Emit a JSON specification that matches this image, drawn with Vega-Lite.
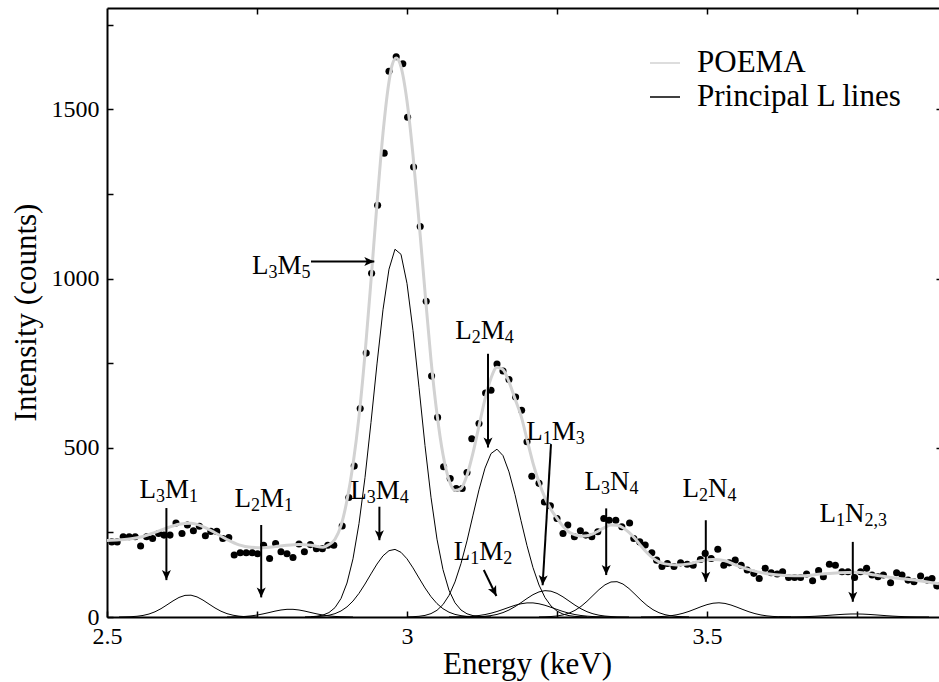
{
  "$schema": "https://vega.github.io/schema/vega-lite/v6.json",
  "width": 832,
  "height": 609,
  "autosize": {"type": "none"},
  "padding": {"left": 107, "top": 8, "right": 0, "bottom": 65},
  "config": {
    "font": "Liberation Serif",
    "view": {"stroke": null},
    "axis": {"grid": false, "labelFont": "Liberation Serif", "titleFont": "Liberation Serif"},
    "style": {"guide-label": {"font": "Liberation Serif"}, "guide-title": {"font": "Liberation Serif"}},
    "legend": {
      "orient": "none", "legendX": 542, "legendY": 39, "title": null,
      "labelFont": "Liberation Serif", "labelFontSize": 31, "labelColor": "black",
      "symbolType": "stroke", "symbolSize": 900, "symbolStrokeWidth": 1.5,
      "labelOffset": 16, "rowPadding": 3, "padding": 0, "labelLimit": 400
    }
  },
  "datasets": {
    "dots": [
      {"E":2.508,"c":222},{"E":2.517,"c":222},{"E":2.527,"c":237},{"E":2.537,"c":237},{"E":2.547,"c":237},
      {"E":2.556,"c":210},{"E":2.566,"c":237},{"E":2.576,"c":232},{"E":2.586,"c":247},{"E":2.595,"c":242},
      {"E":2.605,"c":242},{"E":2.615,"c":278},{"E":2.625,"c":247},{"E":2.634,"c":272},{"E":2.644,"c":255},
      {"E":2.654,"c":268},{"E":2.664,"c":240},{"E":2.673,"c":253},{"E":2.683,"c":253},{"E":2.693,"c":232},
      {"E":2.703,"c":235},{"E":2.712,"c":183},{"E":2.722,"c":190},{"E":2.732,"c":190},{"E":2.742,"c":190},
      {"E":2.751,"c":187},{"E":2.761,"c":212},{"E":2.771,"c":173},{"E":2.781,"c":217},{"E":2.790,"c":193},
      {"E":2.800,"c":187},{"E":2.810,"c":176},{"E":2.820,"c":216},{"E":2.829,"c":193},{"E":2.839,"c":214},
      {"E":2.849,"c":202},{"E":2.859,"c":202},{"E":2.868,"c":212},{"E":2.878,"c":212},{"E":2.892,"c":269},
      {"E":2.903,"c":353},{"E":2.912,"c":446},{"E":2.922,"c":616},{"E":2.932,"c":780},{"E":2.941,"c":1016},
      {"E":2.951,"c":1217},{"E":2.962,"c":1371},{"E":2.970,"c":1613},{"E":2.982,"c":1656},{"E":2.993,"c":1635},
      {"E":3.001,"c":1477},{"E":3.011,"c":1330},{"E":3.022,"c":1154},{"E":3.032,"c":933},{"E":3.041,"c":712},
      {"E":3.051,"c":590},{"E":3.061,"c":444},{"E":3.072,"c":409},{"E":3.082,"c":380},{"E":3.092,"c":380},
      {"E":3.100,"c":427},{"E":3.108,"c":527},{"E":3.120,"c":572},{"E":3.131,"c":662},{"E":3.140,"c":670},
      {"E":3.150,"c":748},{"E":3.160,"c":727},{"E":3.170,"c":702},{"E":3.181,"c":650},{"E":3.191,"c":611},
      {"E":3.200,"c":518},{"E":3.208,"c":416},{"E":3.220,"c":395},{"E":3.229,"c":340},{"E":3.239,"c":329},
      {"E":3.250,"c":291},{"E":3.260,"c":247},{"E":3.268,"c":272},{"E":3.279,"c":237},{"E":3.289,"c":255},
      {"E":3.298,"c":242},{"E":3.308,"c":237},{"E":3.318,"c":252},{"E":3.328,"c":291},{"E":3.337,"c":286},
      {"E":3.348,"c":286},{"E":3.358,"c":267},{"E":3.371,"c":278},{"E":3.378,"c":232},{"E":3.388,"c":222},
      {"E":3.397,"c":213},{"E":3.408,"c":190},{"E":3.416,"c":168},{"E":3.425,"c":149},{"E":3.434,"c":158},
      {"E":3.445,"c":149},{"E":3.456,"c":160},{"E":3.467,"c":156},{"E":3.477,"c":153},{"E":3.489,"c":170},
      {"E":3.497,"c":188},{"E":3.507,"c":173},{"E":3.518,"c":200},{"E":3.528,"c":153},{"E":3.537,"c":160},
      {"E":3.547,"c":168},{"E":3.557,"c":153},{"E":3.567,"c":139},{"E":3.578,"c":129},{"E":3.587,"c":114},
      {"E":3.597,"c":144},{"E":3.607,"c":131},{"E":3.617,"c":127},{"E":3.626,"c":134},{"E":3.636,"c":117},
      {"E":3.646,"c":117},{"E":3.656,"c":117},{"E":3.666,"c":127},{"E":3.676,"c":107},{"E":3.686,"c":137},
      {"E":3.694,"c":119},{"E":3.704,"c":156},{"E":3.714,"c":153},{"E":3.725,"c":134},{"E":3.735,"c":134},
      {"E":3.746,"c":117},{"E":3.756,"c":134},{"E":3.766,"c":144},{"E":3.775,"c":124},{"E":3.785,"c":119},
      {"E":3.794,"c":124},{"E":3.806,"c":101},{"E":3.816,"c":131},{"E":3.825,"c":124},{"E":3.835,"c":109},
      {"E":3.845,"c":104},{"E":3.856,"c":121},{"E":3.867,"c":109},{"E":3.875,"c":114},{"E":3.883,"c":92}
    ],
    "fit": [
      {"E":2.50,"c":226},{"E":2.52,"c":228},{"E":2.54,"c":231},{"E":2.56,"c":238},{"E":2.58,"c":250},
      {"E":2.60,"c":263},{"E":2.62,"c":274},{"E":2.64,"c":277},{"E":2.66,"c":267},{"E":2.68,"c":249},
      {"E":2.70,"c":229},{"E":2.72,"c":213},{"E":2.74,"c":206},{"E":2.76,"c":205},{"E":2.78,"c":208},
      {"E":2.80,"c":212},{"E":2.82,"c":214},{"E":2.84,"c":212},{"E":2.86,"c":206},{"E":2.87,"c":214},
      {"E":2.88,"c":230},{"E":2.89,"c":270},{"E":2.90,"c":345},{"E":2.91,"c":451},{"E":2.92,"c":592},
      {"E":2.93,"c":777},{"E":2.94,"c":994},{"E":2.95,"c":1222},{"E":2.96,"c":1430},{"E":2.97,"c":1582},
      {"E":2.975,"c":1630},{"E":2.982,"c":1652},{"E":2.99,"c":1626},{"E":3.00,"c":1525},{"E":3.01,"c":1365},
      {"E":3.02,"c":1169},{"E":3.03,"c":961},{"E":3.04,"c":760},{"E":3.05,"c":600},{"E":3.06,"c":480},
      {"E":3.07,"c":405},{"E":3.08,"c":374},{"E":3.09,"c":380},{"E":3.10,"c":419},{"E":3.11,"c":485},
      {"E":3.12,"c":565},{"E":3.13,"c":644},{"E":3.14,"c":706},{"E":3.15,"c":738},{"E":3.16,"c":731},
      {"E":3.17,"c":695},{"E":3.18,"c":645},{"E":3.19,"c":595},{"E":3.20,"c":525},{"E":3.21,"c":455},
      {"E":3.22,"c":398},{"E":3.23,"c":352},{"E":3.24,"c":318},{"E":3.25,"c":292},{"E":3.26,"c":268},
      {"E":3.27,"c":251},{"E":3.28,"c":243},{"E":3.29,"c":239},{"E":3.30,"c":240},{"E":3.31,"c":246},
      {"E":3.32,"c":255},{"E":3.33,"c":265},{"E":3.34,"c":272},{"E":3.35,"c":271},{"E":3.36,"c":264},
      {"E":3.37,"c":250},{"E":3.38,"c":232},{"E":3.39,"c":210},{"E":3.40,"c":190},{"E":3.41,"c":174},
      {"E":3.42,"c":163},{"E":3.43,"c":157},{"E":3.45,"c":154},{"E":3.47,"c":157},{"E":3.49,"c":166},
      {"E":3.51,"c":170},{"E":3.53,"c":166},{"E":3.55,"c":152},{"E":3.57,"c":140},{"E":3.60,"c":128},
      {"E":3.63,"c":123},{"E":3.66,"c":122},{"E":3.69,"c":127},{"E":3.72,"c":131},{"E":3.75,"c":132},
      {"E":3.78,"c":124},{"E":3.81,"c":116},{"E":3.85,"c":108},{"E":3.8867,"c":98}
    ],
    "comps": [
      {"k":"L3M1","E":2.52,"c":0},{"k":"L3M1","E":2.53,"c":0.4},{"k":"L3M1","E":2.54,"c":0.9},{"k":"L3M1","E":2.55,"c":2.2},{"k":"L3M1","E":2.56,"c":4.6},{"k":"L3M1","E":2.57,"c":8.8},{"k":"L3M1","E":2.58,"c":15.4},{"k":"L3M1","E":2.59,"c":24.6},{"k":"L3M1","E":2.60,"c":35.9},{"k":"L3M1","E":2.61,"c":47.6},{"k":"L3M1","E":2.62,"c":57.8},{"k":"L3M1","E":2.63,"c":63.9},{"k":"L3M1","E":2.64,"c":64.5},{"k":"L3M1","E":2.65,"c":59.4},{"k":"L3M1","E":2.66,"c":49.9},{"k":"L3M1","E":2.67,"c":38.2},{"k":"L3M1","E":2.68,"c":26.7},{"k":"L3M1","E":2.69,"c":17},{"k":"L3M1","E":2.70,"c":9.9},{"k":"L3M1","E":2.71,"c":5.3},{"k":"L3M1","E":2.72,"c":2.5},{"k":"L3M1","E":2.73,"c":1.1},{"k":"L3M1","E":2.74,"c":0.5},{"k":"L3M1","E":2.75,"c":0},
      {"k":"L2M1","E":2.70,"c":0},{"k":"L2M1","E":2.71,"c":0.4},{"k":"L2M1","E":2.72,"c":0.8},{"k":"L2M1","E":2.73,"c":1.7},{"k":"L2M1","E":2.74,"c":3.3},{"k":"L2M1","E":2.75,"c":5.7},{"k":"L2M1","E":2.76,"c":9.1},{"k":"L2M1","E":2.77,"c":13.1},{"k":"L2M1","E":2.78,"c":17.3},{"k":"L2M1","E":2.79,"c":20.7},{"k":"L2M1","E":2.80,"c":22.7},{"k":"L2M1","E":2.81,"c":22.7},{"k":"L2M1","E":2.82,"c":20.7},{"k":"L2M1","E":2.83,"c":17.3},{"k":"L2M1","E":2.84,"c":13.1},{"k":"L2M1","E":2.85,"c":9.1},{"k":"L2M1","E":2.86,"c":5.7},{"k":"L2M1","E":2.87,"c":3.3},{"k":"L2M1","E":2.88,"c":1.7},{"k":"L2M1","E":2.89,"c":0.8},{"k":"L2M1","E":2.90,"c":0.4},{"k":"L2M1","E":2.91,"c":0},
      {"k":"L3M5","E":2.83,"c":0.3},{"k":"L3M5","E":2.84,"c":0.9},{"k":"L3M5","E":2.85,"c":2.4},{"k":"L3M5","E":2.86,"c":5.8},{"k":"L3M5","E":2.87,"c":13.1},{"k":"L3M5","E":2.88,"c":27.7},{"k":"L3M5","E":2.89,"c":54.5},{"k":"L3M5","E":2.90,"c":100.4},{"k":"L3M5","E":2.91,"c":172},{"k":"L3M5","E":2.92,"c":276},{"k":"L3M5","E":2.93,"c":412},{"k":"L3M5","E":2.94,"c":575},{"k":"L3M5","E":2.95,"c":748},{"k":"L3M5","E":2.96,"c":908},{"k":"L3M5","E":2.97,"c":1028},{"k":"L3M5","E":2.98,"c":1087},{"k":"L3M5","E":2.99,"c":1072},{"k":"L3M5","E":3.00,"c":986},{"k":"L3M5","E":3.01,"c":847},{"k":"L3M5","E":3.02,"c":679},{"k":"L3M5","E":3.03,"c":507},{"k":"L3M5","E":3.04,"c":354},{"k":"L3M5","E":3.05,"c":230},{"k":"L3M5","E":3.06,"c":140},{"k":"L3M5","E":3.07,"c":79},{"k":"L3M5","E":3.08,"c":42},{"k":"L3M5","E":3.09,"c":20.7},{"k":"L3M5","E":3.10,"c":9.5},{"k":"L3M5","E":3.11,"c":4.1},{"k":"L3M5","E":3.12,"c":1.6},{"k":"L3M5","E":3.13,"c":0.6},{"k":"L3M5","E":3.14,"c":0.2},
      {"k":"L3M4","E":2.84,"c":0.5},{"k":"L3M4","E":2.85,"c":1.2},{"k":"L3M4","E":2.86,"c":2.6},{"k":"L3M4","E":2.87,"c":5.2},{"k":"L3M4","E":2.88,"c":9.9},{"k":"L3M4","E":2.89,"c":17.8},{"k":"L3M4","E":2.90,"c":29.9},{"k":"L3M4","E":2.91,"c":47.1},{"k":"L3M4","E":2.92,"c":69.9},{"k":"L3M4","E":2.93,"c":97.4},{"k":"L3M4","E":2.94,"c":127.4},{"k":"L3M4","E":2.95,"c":156.5},{"k":"L3M4","E":2.96,"c":180.8},{"k":"L3M4","E":2.97,"c":196},{"k":"L3M4","E":2.98,"c":199.8},{"k":"L3M4","E":2.99,"c":191.2},{"k":"L3M4","E":3.00,"c":172},{"k":"L3M4","E":3.01,"c":145.2},{"k":"L3M4","E":3.02,"c":115.3},{"k":"L3M4","E":3.03,"c":85.9},{"k":"L3M4","E":3.04,"c":60.2},{"k":"L3M4","E":3.05,"c":39.6},{"k":"L3M4","E":3.06,"c":24.5},{"k":"L3M4","E":3.07,"c":14.2},{"k":"L3M4","E":3.08,"c":7.7},{"k":"L3M4","E":3.09,"c":4},{"k":"L3M4","E":3.10,"c":1.9},{"k":"L3M4","E":3.11,"c":0.9},{"k":"L3M4","E":3.12,"c":0.4},
      {"k":"L2M4","E":3.00,"c":0.3},{"k":"L2M4","E":3.01,"c":0.9},{"k":"L2M4","E":3.02,"c":2.1},{"k":"L2M4","E":3.03,"c":4.7},{"k":"L2M4","E":3.04,"c":10},{"k":"L2M4","E":3.05,"c":19.8},{"k":"L2M4","E":3.06,"c":36.7},{"k":"L2M4","E":3.07,"c":63.7},{"k":"L2M4","E":3.08,"c":103.7},{"k":"L2M4","E":3.09,"c":158},{"k":"L2M4","E":3.10,"c":225},{"k":"L2M4","E":3.11,"c":301},{"k":"L2M4","E":3.12,"c":376},{"k":"L2M4","E":3.13,"c":440},{"k":"L2M4","E":3.14,"c":483},{"k":"L2M4","E":3.15,"c":496},{"k":"L2M4","E":3.16,"c":477},{"k":"L2M4","E":3.17,"c":429},{"k":"L2M4","E":3.18,"c":362},{"k":"L2M4","E":3.19,"c":285},{"k":"L2M4","E":3.20,"c":211},{"k":"L2M4","E":3.21,"c":146},{"k":"L2M4","E":3.22,"c":94.6},{"k":"L2M4","E":3.23,"c":57.4},{"k":"L2M4","E":3.24,"c":32.6},{"k":"L2M4","E":3.25,"c":17.4},{"k":"L2M4","E":3.26,"c":8.6},{"k":"L2M4","E":3.27,"c":4},{"k":"L2M4","E":3.28,"c":1.8},{"k":"L2M4","E":3.29,"c":0.7},{"k":"L2M4","E":3.30,"c":0.3},
      {"k":"L1M2","E":3.07,"c":0.1},{"k":"L1M2","E":3.08,"c":0.3},{"k":"L1M2","E":3.09,"c":0.7},{"k":"L1M2","E":3.10,"c":1.3},{"k":"L1M2","E":3.11,"c":2.5},{"k":"L1M2","E":3.12,"c":4.4},{"k":"L1M2","E":3.13,"c":7.2},{"k":"L1M2","E":3.14,"c":11.2},{"k":"L1M2","E":3.15,"c":16.3},{"k":"L1M2","E":3.16,"c":22.3},{"k":"L1M2","E":3.17,"c":28.6},{"k":"L1M2","E":3.18,"c":34.6},{"k":"L1M2","E":3.19,"c":39.1},{"k":"L1M2","E":3.20,"c":41.7},{"k":"L1M2","E":3.21,"c":41.7},{"k":"L1M2","E":3.22,"c":39.1},{"k":"L1M2","E":3.23,"c":34.6},{"k":"L1M2","E":3.24,"c":28.6},{"k":"L1M2","E":3.25,"c":22.3},{"k":"L1M2","E":3.26,"c":16.3},{"k":"L1M2","E":3.27,"c":11.2},{"k":"L1M2","E":3.28,"c":7.2},{"k":"L1M2","E":3.29,"c":4.4},{"k":"L1M2","E":3.30,"c":2.5},{"k":"L1M2","E":3.31,"c":1.3},{"k":"L1M2","E":3.32,"c":0.7},{"k":"L1M2","E":3.33,"c":0.3},{"k":"L1M2","E":3.34,"c":0.1},
      {"k":"L1M3","E":3.10,"c":0.2},{"k":"L1M3","E":3.11,"c":0.5},{"k":"L1M3","E":3.12,"c":1},{"k":"L1M3","E":3.13,"c":2.1},{"k":"L1M3","E":3.14,"c":4.2},{"k":"L1M3","E":3.15,"c":7.6},{"k":"L1M3","E":3.16,"c":13},{"k":"L1M3","E":3.17,"c":20.6},{"k":"L1M3","E":3.18,"c":30.6},{"k":"L1M3","E":3.19,"c":42.3},{"k":"L1M3","E":3.20,"c":54.7},{"k":"L1M3","E":3.21,"c":66},{"k":"L1M3","E":3.22,"c":74.2},{"k":"L1M3","E":3.23,"c":77.9},{"k":"L1M3","E":3.24,"c":76.3},{"k":"L1M3","E":3.25,"c":69.7},{"k":"L1M3","E":3.26,"c":59.5},{"k":"L1M3","E":3.27,"c":47.3},{"k":"L1M3","E":3.28,"c":35.1},{"k":"L1M3","E":3.29,"c":24.3},{"k":"L1M3","E":3.30,"c":15.7},{"k":"L1M3","E":3.31,"c":9.5},{"k":"L1M3","E":3.32,"c":5.3},{"k":"L1M3","E":3.33,"c":2.8},{"k":"L1M3","E":3.34,"c":1.4},{"k":"L1M3","E":3.35,"c":0.6},{"k":"L1M3","E":3.36,"c":0.3},{"k":"L1M3","E":3.37,"c":0.1},
      {"k":"L3N4","E":3.22,"c":0.2},{"k":"L3N4","E":3.23,"c":0.6},{"k":"L3N4","E":3.24,"c":1.4},{"k":"L3N4","E":3.25,"c":3},{"k":"L3N4","E":3.26,"c":6.1},{"k":"L3N4","E":3.27,"c":11.3},{"k":"L3N4","E":3.28,"c":19.6},{"k":"L3N4","E":3.29,"c":31.3},{"k":"L3N4","E":3.30,"c":46.4},{"k":"L3N4","E":3.31,"c":63.7},{"k":"L3N4","E":3.32,"c":80.9},{"k":"L3N4","E":3.33,"c":95.1},{"k":"L3N4","E":3.34,"c":103.5},{"k":"L3N4","E":3.35,"c":104.4},{"k":"L3N4","E":3.36,"c":97.4},{"k":"L3N4","E":3.37,"c":84.1},{"k":"L3N4","E":3.38,"c":67.2},{"k":"L3N4","E":3.39,"c":49.7},{"k":"L3N4","E":3.40,"c":34.1},{"k":"L3N4","E":3.41,"c":21.6},{"k":"L3N4","E":3.42,"c":12.7},{"k":"L3N4","E":3.43,"c":6.9},{"k":"L3N4","E":3.44,"c":3.5},{"k":"L3N4","E":3.45,"c":1.6},{"k":"L3N4","E":3.46,"c":0.7},{"k":"L3N4","E":3.47,"c":0.3},
      {"k":"L2N4","E":3.39,"c":0.1},{"k":"L2N4","E":3.40,"c":0.2},{"k":"L2N4","E":3.41,"c":0.4},{"k":"L2N4","E":3.42,"c":1},{"k":"L2N4","E":3.43,"c":2},{"k":"L2N4","E":3.44,"c":3.8},{"k":"L2N4","E":3.45,"c":6.7},{"k":"L2N4","E":3.46,"c":11},{"k":"L2N4","E":3.47,"c":16.6},{"k":"L2N4","E":3.48,"c":23.4},{"k":"L2N4","E":3.49,"c":30.4},{"k":"L2N4","E":3.50,"c":36.5},{"k":"L2N4","E":3.51,"c":40.7},{"k":"L2N4","E":3.52,"c":42},{"k":"L2N4","E":3.53,"c":40.1},{"k":"L2N4","E":3.54,"c":35.4},{"k":"L2N4","E":3.55,"c":29},{"k":"L2N4","E":3.56,"c":22},{"k":"L2N4","E":3.57,"c":15.4},{"k":"L2N4","E":3.58,"c":10},{"k":"L2N4","E":3.59,"c":6},{"k":"L2N4","E":3.60,"c":3.3},{"k":"L2N4","E":3.61,"c":1.7},{"k":"L2N4","E":3.62,"c":0.8},{"k":"L2N4","E":3.63,"c":0.4},{"k":"L2N4","E":3.64,"c":0.1},
      {"k":"L1N23","E":3.62,"c":0.1},{"k":"L1N23","E":3.63,"c":0.1},{"k":"L1N23","E":3.64,"c":0.3},{"k":"L1N23","E":3.65,"c":0.5},{"k":"L1N23","E":3.66,"c":0.8},{"k":"L1N23","E":3.67,"c":1.4},{"k":"L1N23","E":3.68,"c":2.2},{"k":"L1N23","E":3.69,"c":3.3},{"k":"L1N23","E":3.70,"c":4.5},{"k":"L1N23","E":3.71,"c":5.9},{"k":"L1N23","E":3.72,"c":7.2},{"k":"L1N23","E":3.73,"c":8.2},{"k":"L1N23","E":3.74,"c":8.9},{"k":"L1N23","E":3.75,"c":9},{"k":"L1N23","E":3.76,"c":8.5},{"k":"L1N23","E":3.77,"c":7.6},{"k":"L1N23","E":3.78,"c":6.4},{"k":"L1N23","E":3.79,"c":5.1},{"k":"L1N23","E":3.80,"c":3.7},{"k":"L1N23","E":3.81,"c":2.6},{"k":"L1N23","E":3.82,"c":1.7},{"k":"L1N23","E":3.83,"c":1},{"k":"L1N23","E":3.84,"c":0.6},{"k":"L1N23","E":3.85,"c":0.3},{"k":"L1N23","E":3.86,"c":0.2},{"k":"L1N23","E":3.87,"c":0.1}
    ],
    "labels": [
      {"E":2.554,"c":351,"a":"3","b":"M","d":"1"},
      {"E":2.7127,"c":326,"a":"2","b":"M","d":"1"},
      {"E":2.9055,"c":350,"a":"3","b":"M","d":"4"},
      {"E":2.7417,"c":1013,"a":"3","b":"M","d":"5"},
      {"E":3.0805,"c":821,"a":"2","b":"M","d":"4"},
      {"E":3.1988,"c":523,"a":"1","b":"M","d":"3"},
      {"E":3.0778,"c":168,"a":"1","b":"M","d":"2"},
      {"E":3.296,"c":375,"a":"3","b":"N","d":"4"},
      {"E":3.4593,"c":355,"a":"2","b":"N","d":"4"},
      {"E":3.6877,"c":281,"a":"1","b":"N","d":"2,3"}
    ],
    "arrows": [
      {"k":"L3M1","E":2.599,"c":322,"E2":2.599,"c2":109},
      {"k":"L2M1","E":2.757,"c":272,"E2":2.757,"c2":58},
      {"k":"L3M4","E":2.954,"c":326,"E2":2.954,"c2":227},
      {"k":"L3M5","E":2.84,"c":1051,"E2":2.9455,"c2":1051},
      {"k":"L2M4","E":3.135,"c":778,"E2":3.135,"c2":501},
      {"k":"L1M3","E":3.240,"c":511,"E2":3.226,"c2":94},
      {"k":"L1M2","E":3.128,"c":139,"E2":3.149,"c2":62},
      {"k":"L3N4","E":3.332,"c":321,"E2":3.332,"c2":124},
      {"k":"L2N4","E":3.498,"c":286,"E2":3.498,"c2":104},
      {"k":"L1N23","E":3.743,"c":222,"E2":3.743,"c2":45}
    ]
  },
  "resolve": {"axis": {"x": "independent", "y": "independent"}},
  "layer": [
    {
      "data": {"name": "comps"},
      "mark": {"type": "line", "stroke": "black", "strokeWidth": 1, "clip": true},
      "encoding": {
        "x": {"field": "E", "type": "quantitative",
          "scale": {"domain": [2.5, 3.88667], "nice": false, "zero": false},
          "axis": {"orient": "bottom", "values": [2.5, 2.75, 3, 3.25, 3.5, 3.75], "format": "~g",
            "labelExpr": "(datum.value*2)%1===0 ? datum.label : ''",
            "tickSize": -6, "tickWidth": 1.5, "tickColor": "black",
            "domainColor": "black", "domainWidth": 2,
            "labelFont": "Liberation Serif", "labelFontSize": 24, "labelColor": "black",
            "labelBaseline": "alphabetic", "labelPadding": 32, "labelFlush": false, "labelOverlap": false,
            "title": "Energy (keV)", "titleFont": "Liberation Serif", "titleFontSize": 31,
            "titleFontWeight": "normal", "titleColor": "black", "titleX": 420, "titleY": 56,
            "titleBaseline": "alphabetic", "titleAlign": "center", "grid": false}},
        "y": {"field": "c", "type": "quantitative",
          "scale": {"domain": [0, 1800], "nice": false},
          "axis": {"orient": "left", "values": [0, 250, 500, 750, 1000, 1250, 1500, 1750], "format": "d",
            "labelExpr": "datum.value%500===0 ? datum.label : ''",
            "tickSize": -6, "tickWidth": 1.5, "tickColor": "black",
            "domainColor": "black", "domainWidth": 2,
            "labelFont": "Liberation Serif", "labelFontSize": 24, "labelColor": "black",
            "labelBaseline": "middle", "labelPadding": 14, "labelFlush": false, "labelOverlap": false,
            "title": "Intensity (counts)", "titleFont": "Liberation Serif", "titleFontSize": 31,
            "titleFontWeight": "normal", "titleColor": "black", "titleAngle": 270,
            "titleX": -72, "titleY": 304, "titleBaseline": "alphabetic", "titleAlign": "center", "grid": false}},
        "detail": {"field": "k"},
        "color": {"datum": "Principal L lines", "type": "nominal",
          "scale": {"domain": ["POEMA", "Principal L lines"], "range": ["#d2d2d2", "#000000"]}}
      }
    },
    {
      "data": {"name": "dots"},
      "mark": {"type": "point", "filled": true, "color": "black", "size": 50, "opacity": 1, "clip": true},
      "encoding": {
        "x": {"field": "E", "type": "quantitative",
          "scale": {"domain": [2.5, 3.88667], "nice": false, "zero": false},
          "axis": {"orient": "top", "values": [2.75, 3, 3.25, 3.5, 3.75], "labels": false, "title": null,
            "tickSize": -6, "tickWidth": 1.5, "tickColor": "black",
            "domainColor": "black", "domainWidth": 2, "grid": false}},
        "y": {"field": "c", "type": "quantitative",
          "scale": {"domain": [0, 1800], "nice": false},
          "axis": {"orient": "right", "values": [500, 1000, 1500], "labels": false, "title": null,
            "domain": false, "tickSize": -3, "tickWidth": 1.5, "tickColor": "black", "grid": false}}
      }
    },
    {
      "data": {"name": "fit"},
      "mark": {"type": "line", "strokeWidth": 3, "interpolate": "monotone", "clip": true},
      "encoding": {
        "x": {"field": "E", "type": "quantitative", "scale": {"domain": [2.5, 3.88667], "nice": false, "zero": false}, "axis": null},
        "y": {"field": "c", "type": "quantitative", "scale": {"domain": [0, 1800], "nice": false}, "axis": null},
        "color": {"datum": "POEMA", "type": "nominal",
          "scale": {"domain": ["POEMA", "Principal L lines"], "range": ["#d2d2d2", "#000000"]}}
      }
    },
    {
      "data": {"name": "arrows"},
      "mark": {"type": "rule", "color": "black", "strokeWidth": 2},
      "encoding": {
        "x": {"field": "E", "type": "quantitative", "scale": {"domain": [2.5, 3.88667], "nice": false, "zero": false}, "axis": null},
        "y": {"field": "c", "type": "quantitative", "scale": {"domain": [0, 1800], "nice": false}, "axis": null},
        "x2": {"field": "E2"},
        "y2": {"field": "c2"}
      }
    },
    {
      "data": {"name": "arrows"},
      "transform": [{"filter": "datum.k !== 'L3M5' && datum.k !== 'L1M2' && datum.k !== 'L1M3'"}],
      "mark": {"type": "point", "shape": "M0,0L-0.45,-1L0,-0.75L0.45,-1Z", "filled": true, "color": "black", "size": 400, "opacity": 1, "angle": 0},
      "encoding": {
        "x": {"field": "E2", "type": "quantitative", "scale": {"domain": [2.5, 3.88667], "nice": false, "zero": false}, "axis": null},
        "y": {"field": "c2", "type": "quantitative", "scale": {"domain": [0, 1800], "nice": false}, "axis": null}
      }
    },
    {
      "data": {"name": "arrows"},
      "transform": [{"filter": "datum.k === 'L3M5'"}],
      "mark": {"type": "point", "shape": "M0,0L-0.45,-1L0,-0.75L0.45,-1Z", "filled": true, "color": "black", "size": 400, "opacity": 1, "angle": -90},
      "encoding": {
        "x": {"field": "E2", "type": "quantitative", "scale": {"domain": [2.5, 3.88667], "nice": false, "zero": false}, "axis": null},
        "y": {"field": "c2", "type": "quantitative", "scale": {"domain": [0, 1800], "nice": false}, "axis": null}
      }
    },
    {
      "data": {"name": "arrows"},
      "transform": [{"filter": "datum.k === 'L1M2'"}],
      "mark": {"type": "point", "shape": "M0,0L-0.45,-1L0,-0.75L0.45,-1Z", "filled": true, "color": "black", "size": 400, "opacity": 1, "angle": -26},
      "encoding": {
        "x": {"field": "E2", "type": "quantitative", "scale": {"domain": [2.5, 3.88667], "nice": false, "zero": false}, "axis": null},
        "y": {"field": "c2", "type": "quantitative", "scale": {"domain": [0, 1800], "nice": false}, "axis": null}
      }
    },
    {
      "data": {"name": "arrows"},
      "transform": [{"filter": "datum.k === 'L1M3'"}],
      "mark": {"type": "point", "shape": "M0,0L-0.45,-1L0,-0.75L0.45,-1Z", "filled": true, "color": "black", "size": 400, "opacity": 1, "angle": 3.4},
      "encoding": {
        "x": {"field": "E2", "type": "quantitative", "scale": {"domain": [2.5, 3.88667], "nice": false, "zero": false}, "axis": null},
        "y": {"field": "c2", "type": "quantitative", "scale": {"domain": [0, 1800], "nice": false}, "axis": null}
      }
    },
    {
      "data": {"name": "labels"},
      "mark": {"type": "text", "text": "L", "font": "Liberation Serif", "fontSize": 27, "align": "left", "baseline": "alphabetic", "color": "black"},
      "encoding": {
        "x": {"field": "E", "type": "quantitative", "scale": {"domain": [2.5, 3.88667], "nice": false, "zero": false}, "axis": null},
        "y": {"field": "c", "type": "quantitative", "scale": {"domain": [0, 1800], "nice": false}, "axis": null}
      }
    },
    {
      "data": {"name": "labels"},
      "mark": {"type": "text", "font": "Liberation Serif", "fontSize": 18, "align": "left", "baseline": "alphabetic", "color": "black", "dx": 16.5, "dy": 4},
      "encoding": {
        "x": {"field": "E", "type": "quantitative", "scale": {"domain": [2.5, 3.88667], "nice": false, "zero": false}, "axis": null},
        "y": {"field": "c", "type": "quantitative", "scale": {"domain": [0, 1800], "nice": false}, "axis": null},
        "text": {"field": "a"}
      }
    },
    {
      "data": {"name": "labels"},
      "mark": {"type": "text", "font": "Liberation Serif", "fontSize": 27, "align": "left", "baseline": "alphabetic", "color": "black", "dx": 25.5},
      "encoding": {
        "x": {"field": "E", "type": "quantitative", "scale": {"domain": [2.5, 3.88667], "nice": false, "zero": false}, "axis": null},
        "y": {"field": "c", "type": "quantitative", "scale": {"domain": [0, 1800], "nice": false}, "axis": null},
        "text": {"field": "b"}
      }
    },
    {
      "data": {"name": "labels"},
      "transform": [{"filter": "datum.b === 'M'"}],
      "mark": {"type": "text", "font": "Liberation Serif", "fontSize": 18, "align": "left", "baseline": "alphabetic", "color": "black", "dx": 49.5, "dy": 4},
      "encoding": {
        "x": {"field": "E", "type": "quantitative", "scale": {"domain": [2.5, 3.88667], "nice": false, "zero": false}, "axis": null},
        "y": {"field": "c", "type": "quantitative", "scale": {"domain": [0, 1800], "nice": false}, "axis": null},
        "text": {"field": "d"}
      }
    },
    {
      "data": {"name": "labels"},
      "transform": [{"filter": "datum.b === 'N'"}],
      "mark": {"type": "text", "font": "Liberation Serif", "fontSize": 18, "align": "left", "baseline": "alphabetic", "color": "black", "dx": 45, "dy": 4},
      "encoding": {
        "x": {"field": "E", "type": "quantitative", "scale": {"domain": [2.5, 3.88667], "nice": false, "zero": false}, "axis": null},
        "y": {"field": "c", "type": "quantitative", "scale": {"domain": [0, 1800], "nice": false}, "axis": null},
        "text": {"field": "d"}
      }
    }
  ]
}
